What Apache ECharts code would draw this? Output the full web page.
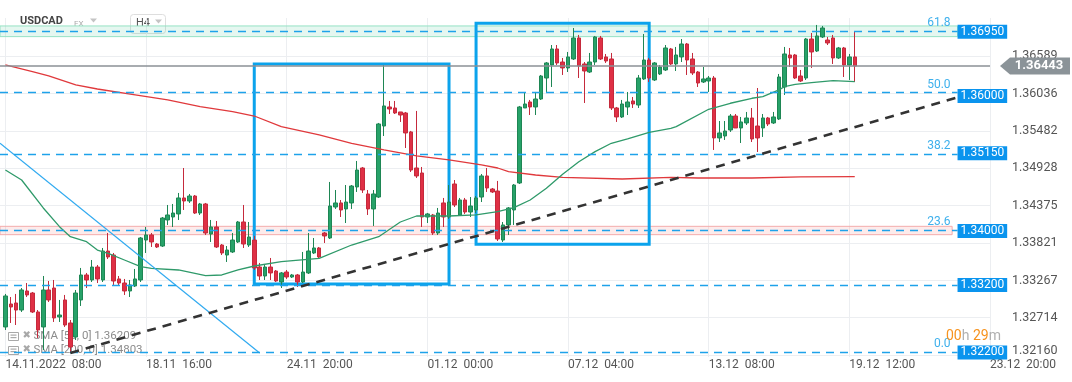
<!DOCTYPE html>
<html><head><meta charset="utf-8">
<script src="https://cdn.jsdelivr.net/npm/echarts@6.0.0/dist/echarts.min.js"></script>
<style>html,body{margin:0;padding:0;background:#fff}#c{width:1072px;height:382px}</style>
</head><body><div id="c"></div>
<script>
// ---- data (USDCAD, H4) ----
// each candle: [open, close, low, high]
const candles = [
[1.32577,1.33036,1.32532,1.33066],[1.32917,1.32873,1.32636,1.33021],[1.32932,1.32828,1.32606,1.33066],[1.32828,1.33125,1.32799,1.33154],
[1.33110,1.33051,1.33021,1.33228],[1.33080,1.32799,1.32784,1.33095],[1.32799,1.32532,1.32414,1.32828],[1.32577,1.33125,1.32236,1.33332],
[1.33125,1.32977,1.32947,1.33258],[1.33154,1.32710,1.32651,1.33273],[1.32725,1.32754,1.32651,1.32977],[1.32977,1.32606,1.32577,1.33051],
[1.32636,1.32280,1.32191,1.32680],[1.32428,1.33080,1.32384,1.33125],[1.32977,1.33347,1.32888,1.33451],[1.33347,1.33273,1.33154,1.33377],
[1.33273,1.33465,1.33243,1.33569],[1.33465,1.33288,1.33228,1.33495],[1.33273,1.33702,1.33243,1.33747],[1.33702,1.33614,1.33584,1.33969],
[1.33643,1.33258,1.33199,1.33673],[1.33288,1.33228,1.33199,1.33332],[1.33228,1.33110,1.33051,1.33288],[1.33110,1.33199,1.33021,1.33273],
[1.33184,1.33288,1.33169,1.33436],[1.33273,1.33895,1.33243,1.33910],[1.33865,1.33940,1.33673,1.34058],[1.33940,1.33836,1.33762,1.33969],
[1.33806,1.33762,1.33747,1.33821],[1.33776,1.34191,1.33762,1.34206],[1.34162,1.34236,1.34088,1.34384],[1.34206,1.34265,1.34058,1.34399],
[1.34251,1.34488,1.34162,1.34562],[1.34488,1.34443,1.34310,1.34932],[1.34443,1.34517,1.34414,1.34547],[1.34517,1.34265,1.34251,1.34532],
[1.34265,1.34399,1.34236,1.34414],[1.34399,1.33969,1.33940,1.34414],[1.33954,1.34058,1.33836,1.34162],[1.34058,1.33762,1.33747,1.34147],
[1.33791,1.33673,1.33643,1.33806],[1.33643,1.33717,1.33540,1.33776],[1.33688,1.33865,1.33673,1.33969],[1.33836,1.34132,1.33821,1.34147],
[1.34132,1.33806,1.33747,1.34384],[1.33791,1.33910,1.33762,1.34132],[1.33865,1.33451,1.33421,1.33925],[1.33465,1.33332,1.33273,1.33525],
[1.33332,1.33465,1.33273,1.33510],[1.33465,1.33377,1.33273,1.33599],[1.33406,1.33258,1.33243,1.33421],[1.33243,1.33377,1.33154,1.33391],
[1.33391,1.33317,1.33288,1.33421],[1.33317,1.33347,1.33302,1.33362],[1.33347,1.33243,1.33169,1.33362],[1.33243,1.33391,1.33228,1.33688],
[1.33377,1.33702,1.33362,1.33969],[1.33673,1.33747,1.33658,1.33895],[1.33747,1.33614,1.33599,1.33762],[1.33969,1.33925,1.33821,1.33984],
[1.33895,1.34369,1.33880,1.34725],[1.34354,1.34414,1.34325,1.34606],[1.34414,1.34310,1.34206,1.34458],[1.34325,1.34428,1.34117,1.34680],
[1.34414,1.34665,1.34325,1.34680],[1.34651,1.34902,1.34577,1.35036],[1.34932,1.34606,1.34562,1.34947],[1.34547,1.34325,1.34236,1.34606],
[1.34325,1.34547,1.34073,1.34606],[1.34502,1.35584,1.34488,1.35599],[1.35554,1.35851,1.35406,1.36458],[1.35836,1.35806,1.35732,1.35925],
[1.35821,1.35747,1.35732,1.35925],[1.35762,1.35717,1.35614,1.35762],[1.35747,1.35451,1.35228,1.35762],[1.35466,1.34902,1.34873,1.35481],
[1.34932,1.34814,1.34784,1.35777],[1.34858,1.34206,1.34058,1.34947],[1.34206,1.34251,1.34117,1.34266],[1.34236,1.33969,1.33940,1.34251],
[1.33969,1.34265,1.33940,1.34340],[1.34414,1.34206,1.34058,1.34488],[1.34206,1.34428,1.34177,1.34680],[1.34695,1.34384,1.34354,1.34754],
[1.34236,1.34458,1.34221,1.34488],[1.34458,1.34280,1.34251,1.34488],[1.34280,1.34369,1.34206,1.34502],[1.34310,1.34488,1.34265,1.34517],
[1.34502,1.34814,1.34428,1.34843],[1.34814,1.34636,1.34577,1.34932],[1.34621,1.34577,1.34562,1.34636],[1.34591,1.33880,1.33850,1.34740],
[1.33865,1.34088,1.33836,1.34132],[1.34088,1.34340,1.33940,1.34354],[1.34310,1.34680,1.34088,1.34695],[1.34710,1.35836,1.34695,1.35851],
[1.35821,1.35880,1.35821,1.36043],[1.35910,1.35836,1.35717,1.35940],[1.35836,1.35954,1.35717,1.36058],[1.35954,1.36295,1.35940,1.36310],
[1.36265,1.36488,1.36058,1.36502],[1.36458,1.36695,1.36132,1.36754],[1.36695,1.36488,1.36458,1.36754],[1.36502,1.36414,1.36310,1.36562],
[1.36414,1.36577,1.36354,1.36651],[1.36547,1.36858,1.36532,1.37006],[1.36858,1.36443,1.36265,1.36903],[1.36473,1.36369,1.35895,1.36502],
[1.36354,1.36502,1.36340,1.36636],[1.36502,1.36873,1.36458,1.36888],[1.36858,1.36547,1.36532,1.36888],[1.36577,1.36517,1.36488,1.36621],
[1.36547,1.35821,1.35791,1.36636],[1.35821,1.35688,1.35614,1.35836],[1.35688,1.35880,1.35673,1.35940],[1.35836,1.35910,1.35717,1.36058],
[1.35925,1.35880,1.35821,1.35984],[1.35865,1.36265,1.35821,1.36310],[1.36251,1.36532,1.36236,1.36917],[1.36532,1.36265,1.36206,1.36562],
[1.36236,1.36488,1.36221,1.36502],[1.36325,1.36428,1.36310,1.36458],[1.36384,1.36710,1.36369,1.36754],[1.36695,1.36473,1.36458,1.36710],
[1.36473,1.36606,1.36369,1.36725],[1.36577,1.36769,1.36502,1.36843],[1.36769,1.36532,1.36310,1.36784],[1.36547,1.36340,1.36310,1.36636],
[1.36354,1.36191,1.36132,1.36369],[1.36206,1.36251,1.36191,1.36428],[1.36221,1.36265,1.36058,1.36295],[1.36265,1.35377,1.35199,1.36295],
[1.35377,1.35451,1.35317,1.35628],[1.35406,1.35480,1.35347,1.35628],[1.35495,1.35702,1.35466,1.35732],[1.35702,1.35525,1.35525,1.35732],
[1.35525,1.35614,1.35302,1.35688],[1.35599,1.35673,1.35569,1.35762],[1.35673,1.35362,1.35317,1.35821],[1.35554,1.35377,1.35169,1.36117],
[1.35525,1.35673,1.35392,1.35732],[1.35673,1.35584,1.35554,1.35688],[1.35599,1.35688,1.35584,1.35762],[1.35658,1.36280,1.35643,1.36325],
[1.36132,1.36621,1.36014,1.36725],[1.36606,1.36562,1.36428,1.36710],[1.36606,1.36265,1.36251,1.36621],[1.36295,1.36221,1.36206,1.36384],
[1.36265,1.36843,1.36236,1.36858],[1.36843,1.36651,1.36414,1.36932],[1.36665,1.36888,1.36651,1.37051],[1.36873,1.37006,1.36858,1.37036],
[1.36828,1.36784,1.36754,1.36873],[1.36858,1.36562,1.36473,1.36903],[1.36562,1.36710,1.36547,1.36725],[1.36710,1.36458,1.36280,1.36725],
[1.36458,1.36577,1.36236,1.36621],[1.36577,1.36443,1.36206,1.36947]
];
// SMA readings: [category index, value]
const sma50 = [[1,1.34902],[4,1.34754],[8,1.34340],[11,1.34063],[13,1.33914],[16,1.33840],[18,1.33717],[20,1.33668],[23,1.33569],[26,1.33470],[28,1.33446],[33,1.33421],[38,1.33337],[41,1.33347],[44,1.33421],[47,1.33480],[52,1.33544],[59,1.33594],[65,1.33791],[70,1.33914],[74,1.34132],[77,1.34221],[83,1.34221],[88,1.34236],[92,1.34285],[95,1.34344],[98,1.34458],[101,1.34631],[104,1.34839],[107,1.35025],[110,1.35174],[113,1.35298],[116,1.35362],[120,1.35461],[124,1.35520],[125,1.35544],[131,1.35802],[135,1.35891],[139,1.35965],[141,1.35989],[144,1.36088],[145,1.36137],[147,1.36172],[150,1.36196],[154,1.36225],[158,1.36211]];
const sma200 = [[1,1.36458],[6,1.36359],[9,1.36295],[14,1.36162],[18,1.36102],[25,1.36014],[31,1.35940],[37,1.35840],[43,1.35767],[47,1.35702],[52,1.35544],[59,1.35421],[65,1.35298],[71,1.35199],[77,1.35110],[83,1.35051],[89,1.34977],[92,1.34932],[94,1.34877],[99,1.34828],[104,1.34794],[115,1.34769],[124,1.34794],[129,1.34784],[139,1.34784],[148,1.34799],[158,1.34803]];
const supportTrend = [[13,1.32191],[177,1.35977]];
const downTrend = [[0,1.35300],[48,1.32190]];
const yTicks = [1.32160,1.32714,1.33267,1.33821,1.34375,1.34928,1.35482,1.36036,1.36589];
const xTickLabels = ['14.11.2022  08:00','18.11  16:00','24.11  20:00','01.12  00:00','07.12  04:00','13.12  08:00','19.12  12:00','23.12  20:00'];
const priceLevels = [1.36950,1.36000,1.35150,1.34000,1.33200,1.32200];
const fibLevels = ['61.8','50.0','38.2','23.6','0.0'];
const fibPrices = [1.36959,1.36050,1.35141,1.34017,1.32200];
const lastPrice = 1.36443;
const sma50Last = 1.36209, sma200Last = 1.34803;
const greenZone = [1.37036,1.36878];
const redZone = [1.34068,1.33944];
const boxes = [[47,1.36473,83,1.33213],[88,1.37076,120,1.33802]];

// H4 bar times, weekend skipped (Sunday 20:00 bar kept)
function buildCats(count){
  const out=[]; let t=Date.UTC(2022,10,14,4);
  const p=n=>String(n).padStart(2,'0');
  while(out.length<count){
    const d=new Date(t), wd=d.getUTCDay(), h=d.getUTCHours();
    if(!(wd===6||(wd===0&&h<20))) out.push(p(d.getUTCDate())+'.'+p(d.getUTCMonth()+1)+'  '+p(h)+':00');
    t+=4*3600e3;
  }
  return out;
}
const xCats = buildCats(184);
const candleData = candles.map((c,k)=>[k+1].concat(c));
const isTick = i => i>=1 && (i-1)%26===0;
const F = 'Roboto';
const legendRow = (top, txt) => ({type:'group',left:6,top:top,z:0,children:[
  {type:'rect',shape:{x:0,y:0,width:10,height:8},style:{fill:'none',stroke:'#a8a8a8',lineWidth:1}},
  {type:'rect',shape:{x:2,y:2,width:6,height:1.2},style:{fill:'#a8a8a8'}},
  {type:'rect',shape:{x:2,y:4.5,width:6,height:1.2},style:{fill:'#a8a8a8'}},
  {type:'text',x:14,y:-2,style:{text:'✖',font:'10px DejaVu Sans',fill:'#a8a8a8'}},
  {type:'text',x:25,y:-2,style:{text:txt,font:'11.5px Roboto',fill:'#8c8c8c'}}
]});

const chart = echarts.init(document.getElementById('c'), null, {renderer:'canvas'});
chart.setOption({
  animation:false,
  backgroundColor:'#fff',
  grid:{left:0,right:82,top:18,bottom:25,containLabel:false,outerBoundsMode:'none'},
  xAxis:{type:'category',data:xCats,boundaryGap:false,
    axisLine:{show:false},axisTick:{show:false},
    axisLabel:{interval:(i)=>isTick(i),formatter:(v,i)=>isTick(i)?xTickLabels[(i-1)/26]:'',align:'left',color:'#555',fontSize:12,fontFamily:F,margin:2},
    splitLine:{show:true,interval:(i)=>isTick(i),lineStyle:{color:'#eceef1',width:1}}},
  yAxis:{type:'value',position:'right',min:1.32132,max:1.37154,scale:true,
    axisLine:{show:false},axisTick:{show:false,customValues:yTicks},
    axisLabel:{customValues:yTicks,margin:22,color:'#555',fontSize:12.5,fontFamily:F,
      formatter:(v)=>Math.abs(v-yTicks[0])<1e-7?'{lo|'+v.toFixed(5)+'}':v.toFixed(5),
      rich:{lo:{padding:[0,0,9,0],fontSize:12.5,color:'#555',fontFamily:F}}},
    splitLine:{show:true,lineStyle:{color:'#eceef1',width:1}}},
  graphic:[
    {type:'text',left:20,top:16,z:0,style:{text:'USDCAD',font:'bold 11px Roboto',fill:'#454545'}},
    {type:'text',left:74,top:20,z:0,style:{text:'FX',font:'8px Roboto',fill:'#aaa'}},
    {type:'polygon',z:0,shape:{points:[[90,18.5],[97,18.5],[93.5,22.5]]},style:{fill:'#c4c4c4'}},
    {type:'rect',z:0,shape:{x:130.5,y:14.5,width:35,height:19,r:3},style:{fill:'none',stroke:'#dedede',lineWidth:1}},
    {type:'text',left:136,top:18,z:0,style:{text:'H4',font:'11px Roboto',fill:'#555'}},
    {type:'polygon',z:0,shape:{points:[[155,19.5],[162,19.5],[158.5,23.5]]},style:{fill:'#c4c4c4'}},
    legendRow(330, 'SMA [50, 0] '+sma50Last.toFixed(5)),
    legendRow(344, 'SMA [200, 0] '+sma200Last.toFixed(5)),
    {type:'text',left:946,top:329,z:10,style:{text:'{o|00}{g|h }{o|29}{g|m}',rich:{o:{fill:'#f7931e',font:'14px Roboto'},g:{fill:'#b0b0b0',font:'14px Roboto'}}}}
  ],
  series:[
    {type:'line',name:'zones',data:[],z:1,silent:true,
      markArea:{silent:true,data:[
        [{coord:[0,greenZone[0]],itemStyle:{color:'rgba(40,190,130,0.12)',borderColor:'#95e2c4',borderWidth:1}},{coord:[177,greenZone[1]]}],
        [{coord:[0,redZone[0]],itemStyle:{color:'rgba(240,90,90,0.12)',borderColor:'#f3abab',borderWidth:1}},{coord:[176,redZone[1]]}]
      ]}},
    {type:'line',name:'levels',data:[],z:2,silent:true,
      markLine:{silent:true,symbol:['none','none'],
        data:fibPrices.map((p,i)=>[
          {coord:[0,p],lineStyle:{color:'#1ea2ea',type:[8,6],width:1.3},
           label:{show:true,position:'insideEndTop',formatter:fibLevels[i],color:'#3eb0ec',fontSize:12,fontFamily:F,distance:[7,2]}},
          {coord:[177,p]}]).concat([
          [{coord:[0,priceLevels[4]],lineStyle:{color:'#1ea2ea',type:[8,6],width:1.3},label:{show:false}},{coord:[177,priceLevels[4]]}]
        ])}},
    {type:'candlestick',name:'USDCAD',data:candleData,encode:{x:0,y:[1,2,3,4]},z:3,barWidth:4,
      itemStyle:{color:'#27a269',color0:'#df3045',borderColor:'#1e8654',borderColor0:'#c52a3c',borderWidth:1}},
    {type:'line',name:'SMA 200',data:sma200,z:4,symbol:'none',silent:true,lineStyle:{color:'#e0393c',width:1.3}},
    {type:'line',name:'SMA 50',data:sma50,z:4,symbol:'none',silent:true,lineStyle:{color:'#2f9a6a',width:1.3}},
    {type:'line',name:'trend down',data:downTrend,z:4,symbol:'none',silent:true,lineStyle:{color:'#31aaf0',width:1.2}},
    {type:'line',name:'trend up',data:supportTrend,z:5,symbol:'none',silent:true,lineStyle:{color:'#333',width:2.6,type:[9,7]}},
    {type:'line',name:'overlay',data:[],z:6,silent:true,
      markArea:{silent:true,data:boxes.map(b=>[{coord:[b[0],b[1]],itemStyle:{color:'rgba(0,0,0,0)',borderColor:'#0ba3ec',borderWidth:3}},{coord:[b[2],b[3]]}])},
      markLine:{silent:true,symbol:['none','none'],
        data:[[{coord:[0,lastPrice],lineStyle:{color:'#8b9196',width:1.5,type:'solid'},label:{show:false}},{coord:[183,lastPrice]}]].concat(
          priceLevels.map(p=>[{coord:[176,p],lineStyle:{color:'rgba(0,0,0,0)',width:1,type:'solid'},
            label:{show:true,opacity:1,position:'end',distance:0,formatter:p.toFixed(5),color:'#fff',backgroundColor:'#0a94ee',padding:[1,3,0,3],fontSize:12,lineHeight:13,fontFamily:F}},{coord:[177,p]}]))},
      markPoint:{silent:true,data:[{coord:[183,lastPrice],symbol:'path://M0,8.5L10,0H70V17H10Z',symbolSize:[70,17],symbolOffset:[45,0],
        itemStyle:{color:'#8b9398'},label:{show:true,position:'inside',offset:[4,0],formatter:lastPrice.toFixed(5),color:'#fff',fontWeight:'bold',fontSize:13,fontFamily:F}}]}}
  ]
});
</script></body></html>
